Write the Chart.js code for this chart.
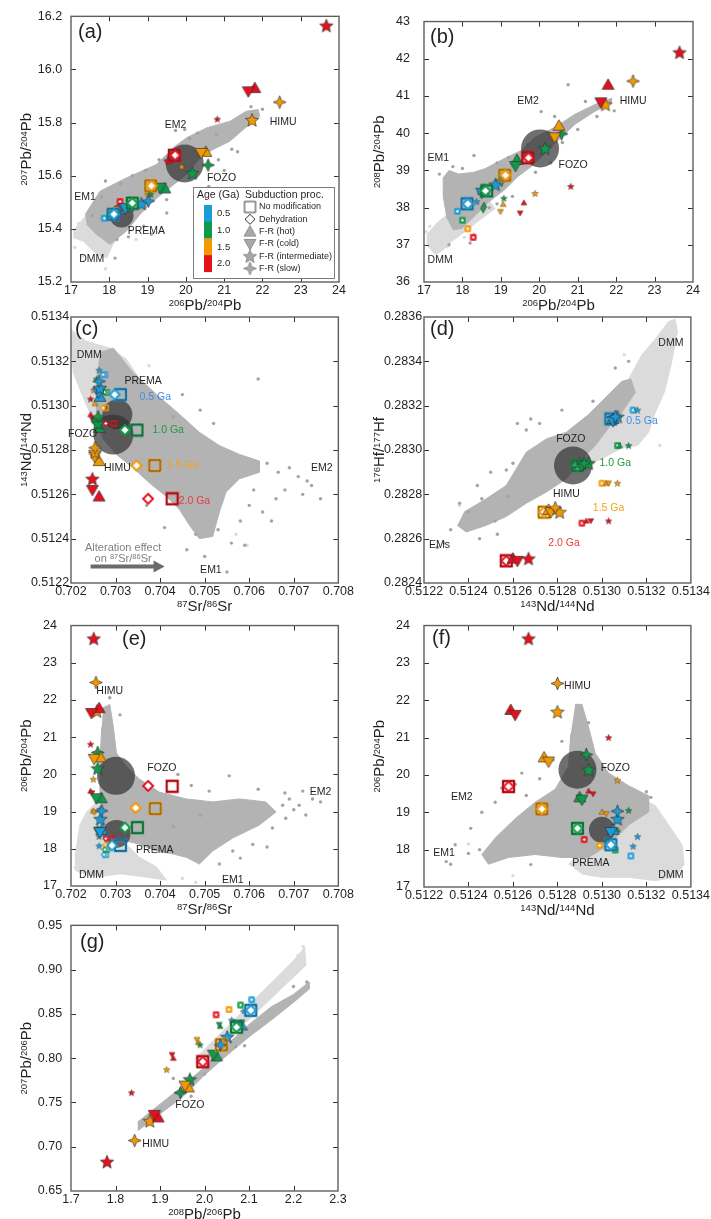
<!DOCTYPE html>
<html><head><meta charset="utf-8">
<script src="https://cdn.jsdelivr.net/npm/chart.js"></script>
<style>
html,body{margin:0;padding:0;background:#fff;overflow:hidden;width:711px;height:1219px;position:relative}
canvas{position:absolute}
</style>
</head><body>
<script>
// ---------------- categories ----------------
const AGES = ['0.5','1.0','1.5','2.0'];
const PROCS = ['No modification','Dehydration','F-R (hot)','F-R (cold)','F-R (intermediate)','F-R (slow)'];

// ---------------- tick values ----------------
const pb206Ticks = [17,18,19,20,21,22,23,24];
const aYTicks = [15.2,15.4,15.6,15.8,16.0,16.2];
const bYTicks = [36,37,38,39,40,41,42,43];
const srTicks = [0.702,0.703,0.704,0.705,0.706,0.707,0.708];
const ndTicks = [0.5122,0.5124,0.5126,0.5128,0.5130,0.5132,0.5134];
const hfTicks = [0.2824,0.2826,0.2828,0.2830,0.2832,0.2834,0.2836];
const gXTicks = [1.7,1.8,1.9,2.0,2.1,2.2,2.3];
const gYTicks = [0.65,0.70,0.75,0.80,0.85,0.90,0.95];

// ---------------- panel (a): 206Pb/204Pb vs 207Pb/204Pb ----------------
const aModel = [[18.10,15.455,0,0],[18.12,15.455,0,1],[18.50,15.485,0,2],[18.42,15.478,0,3],[18.84,15.495,0,4],[19.02,15.505,0,5],
 [18.60,15.497,1,0],[18.60,15.497,1,1],[19.45,15.552,1,2],[19.33,15.555,1,3],[20.17,15.61,1,4],[20.58,15.64,1,5],
 [19.08,15.562,2,0],[19.10,15.562,2,1],[20.52,15.69,2,2],[20.40,15.686,2,3],[21.73,15.81,2,4],[22.45,15.877,2,5],
 [19.70,15.677,3,0],[19.72,15.677,3,1],[21.80,15.93,3,2],[21.63,15.918,3,3],[23.67,16.165,3,4]];
const aSmall = [[17.87,15.44,0,0],[17.87,15.44,0,1],[18.02,15.455,1,0],[18.02,15.455,1,1],[18.15,15.47,2,0],[18.15,15.47,2,1],[18.28,15.503,3,0],[18.28,15.503,3,1],
 [18.55,15.49,1,2],[18.53,15.485,1,3],[19.05,15.53,2,2],[19.0,15.525,2,3],[19.58,15.655,3,2],[19.5,15.652,3,3],
 [18.37,15.465,0,4],[19.08,15.53,1,4],[19.89,15.634,2,4],[20.82,15.813,3,4]];
const aMorb = [[17.06,15.392],[17.41,15.454],[17.76,15.505],[18.19,15.53],[18.63,15.517],[18.8,15.467],[18.45,15.404],[18.1,15.342],[17.93,15.291],[17.67,15.304],[17.32,15.354],[17.06,15.367]];
const aOib = [[17.37,15.454],[17.76,15.542],[18.45,15.592],[19.23,15.642],[19.67,15.705],[20.02,15.743],[20.54,15.78],[21.15,15.805],[21.58,15.843],[21.89,15.849],[21.93,15.824],[21.5,15.774],[21.15,15.73],[20.71,15.699],[20.37,15.667],[20.02,15.605],[19.58,15.555],[19.15,15.505],[18.8,15.454],[18.45,15.392],[18.02,15.342],[17.67,15.379],[17.41,15.417]];
const aDots = [[19.73,15.77],[19.97,15.774],[20.1,15.74],[20.8,15.755],[19.1,15.38],[18.15,15.29],[18.2,15.36],[17.55,15.45],[17.8,15.52],[21.0,15.62],[21.35,15.69],[20.6,15.56],[19.5,15.46],[18.9,15.41],[22.0,15.85],[21.7,15.86],[18.6,15.6],[18.3,15.57],[20.3,15.76],[19.5,15.51],[20.85,15.66],[21.2,15.7],[19.3,15.66],[18.95,15.62],[17.9,15.58],[18.5,15.37]];
const aLight = [[17.1,15.33],[17.3,15.3],[17.5,15.4],[18.7,15.36],[17.9,15.25],[17.2,15.42],[18.9,15.48]];
const aCircles = [[19.97,15.646],[18.32,15.45]];
const aLabels = [['EM2',19.73,15.79],['HIMU',22.54,15.80],['FOZO',20.93,15.59],['EM1',17.37,15.52],['PREMA',18.97,15.39],['DMM',17.54,15.285]];

// ---------------- panel (b): 206Pb/204Pb vs 208Pb/204Pb ----------------
const bModel = [[18.12,38.10,0,0],[18.14,38.10,0,1],[18.55,38.48,0,2],[18.50,38.40,0,3],[18.86,38.62,0,4],[19.02,38.73,0,5],
 [18.63,38.45,1,0],[18.60,38.45,1,1],[19.42,39.28,1,2],[19.38,39.12,1,3],[20.15,39.59,1,4],[20.58,39.98,1,5],
 [19.10,38.87,2,0],[19.12,38.87,2,1],[20.51,40.20,2,2],[20.40,39.89,2,3],[21.72,40.77,2,4],[22.44,41.40,2,5],
 [19.70,39.34,3,0],[19.72,39.34,3,1],[21.79,41.30,3,2],[21.60,40.83,3,3],[23.65,42.17,3,4]];
const bSmall = [[17.87,37.90,0,0],[17.87,37.90,0,1],[18.00,37.66,1,0],[18.00,37.66,1,1],[18.14,37.43,2,0],[18.14,37.43,2,1],[18.28,37.20,3,0],[18.28,37.20,3,1],
 [18.56,38.07,1,2],[18.54,37.93,1,3],[19.06,38.09,2,2],[18.99,37.89,2,3],[19.60,38.13,3,2],[19.50,37.85,3,3],
 [18.37,38.16,0,4],[19.08,38.25,1,4],[19.89,38.38,2,4],[20.82,38.57,3,4]];
const bMorb = [[17.07,37.27],[17.37,37.62],[17.81,37.97],[18.24,38.14],[18.67,38.23],[18.85,37.97],[18.5,37.71],[18.07,37.36],[17.72,37.09],[17.46,36.83],[17.29,36.74],[17.07,37.0]];
const bOib = [[17.6,37.7],[17.5,38.3],[17.5,38.8],[17.65,39.0],[17.9,38.9],[18.3,38.95],[18.6,39.05],[19.02,39.28],[19.54,39.54],[19.89,39.89],[20.41,40.16],[20.93,40.51],[21.45,40.77],[21.88,40.94],[21.88,40.81],[21.45,40.59],[20.93,40.24],[20.49,39.81],[20.15,39.46],[19.8,39.11],[19.45,38.84],[19.11,38.49],[18.67,38.14],[18.33,37.79],[17.98,37.44],[17.75,37.4]];
const bDots = [[20.75,41.3],[20.05,40.58],[19.7,39.7],[19.3,39.1],[19.9,38.95],[20.3,39.2],[18.3,39.4],[18.0,39.05],[17.4,38.9],[18.9,38.1],[19.3,38.3],[21.0,40.1],[21.5,40.45],[21.95,40.6],[20.6,39.75],[18.7,38.0],[18.2,37.05],[17.65,37.0],[19.2,39.35],[18.9,39.2],[20.4,40.45],[21.2,40.85],[17.75,39.1]];
const bLight = [[17.05,37.35],[17.3,36.9],[17.6,36.95],[18.05,37.2],[17.15,37.5],[18.3,37.3]];
const bCircles = [[20.02,39.59]];
const bLabels = [['EM2',19.71,40.86],['HIMU',22.44,40.86],['EM1',17.37,39.34],['FOZO',20.88,39.13],['DMM',17.42,36.59]];

// ---------------- panel (c): 87Sr/86Sr vs 143Nd/144Nd ----------------
const cModel = [[0.70311,0.51305,0,0],[0.70298,0.51305,0,1],[0.70265,0.51304,0,2],[0.70262,0.51306,0,3],[0.70265,0.51308,0,4],[0.70263,0.51311,0,5],
 [0.70348,0.51289,1,0],[0.70321,0.51289,1,1],[0.70263,0.51290,1,2],[0.70258,0.51292,1,3],[0.70260,0.51292,1,4],[0.70261,0.51295,1,5],
 [0.70388,0.51273,2,0],[0.70347,0.51273,2,1],[0.70263,0.51275,2,2],[0.70253,0.51277,2,3],[0.70254,0.51279,2,4],[0.70254,0.51281,2,5],
 [0.70427,0.51258,3,0],[0.70373,0.51258,3,1],[0.70263,0.51259,3,2],[0.70248,0.51262,3,3],[0.70248,0.51267,3,4]];
const cSmall = [[0.70276,0.51314,0,0],[0.70272,0.51314,0,1],[0.70280,0.51306,1,0],[0.70275,0.51306,1,1],[0.70278,0.51299,2,0],[0.70272,0.51299,2,1],[0.70296,0.51292,3,0],[0.70278,0.51292,3,1],
 [0.70260,0.51308,1,2],[0.70254,0.51301,2,2],[0.70244,0.51296,3,2],[0.70248,0.51294,3,3],
 [0.70263,0.51316,0,4],[0.70257,0.51312,1,4],[0.70251,0.51307,2,4],[0.70244,0.51303,3,4]];
const cMorb = [[0.702015,0.51334],[0.70235,0.51329],[0.70287,0.51326],[0.70324,0.51321],[0.70354,0.51312],[0.70369,0.51303],[0.70362,0.51293],[0.70339,0.51285],[0.70302,0.51282],[0.70265,0.51288],[0.70235,0.513],[0.70205,0.51315],[0.702,0.5133]];
const cOib = [[0.70265,0.51324],[0.70295,0.51326],[0.70339,0.51315],[0.70392,0.51305],[0.70444,0.51296],[0.70488,0.51288],[0.70533,0.51282],[0.70578,0.51278],[0.70623,0.51275],[0.70623,0.51270],[0.70578,0.51267],[0.70548,0.51261],[0.70533,0.51252],[0.70518,0.51241],[0.70488,0.51240],[0.70466,0.51246],[0.70444,0.51253],[0.70414,0.51259],[0.70377,0.51265],[0.70339,0.51272],[0.70302,0.51278],[0.70272,0.51285],[0.70257,0.51296],[0.70257,0.51312]];
const cDots = [[0.7064,0.51274],[0.70665,0.5127],[0.7069,0.51272],[0.7071,0.51268],[0.7073,0.51266],[0.7072,0.5126],[0.7074,0.51264],[0.7076,0.51258],[0.7068,0.51262],[0.7066,0.51258],[0.7063,0.51252],[0.706,0.51255],[0.7058,0.51248],[0.7056,0.51238],[0.7061,0.51262],[0.705,0.51232],[0.7055,0.51225],[0.7062,0.51312],[0.7059,0.51237],[0.7065,0.51248],[0.7048,0.51242],[0.7053,0.51244],[0.7045,0.51305],[0.7043,0.51295],[0.7046,0.51235],[0.7041,0.51245],[0.7037,0.51255],[0.7052,0.51292],[0.7049,0.51298]];
const cLight = [[0.7057,0.51242],[0.70595,0.51237],[0.70375,0.51318],[0.7038,0.51296]];
const cCircles = [[0.70304,0.51296],[0.70295,0.51287]];
const cLabels = [['DMM',0.70241,0.51323],['PREMA',0.70362,0.51311],['0.5 Ga',0.70389,0.51304,0],['1.0 Ga',0.70418,0.51289,1],['1.5 Ga',0.7045,0.51273,2],['2.0 Ga',0.70477,0.51257,3],
 ['FOZO',0.70226,0.51287],['HIMU',0.70304,0.51272],['EM2',0.70763,0.51272],['EM1',0.70514,0.51226],['Alteration effect',0.70317,0.512358,4],['on \u2078\u2077Sr/\u2078\u2076Sr',0.70317,0.512313,4]];
const cArrow = [[0.70244,0.512275],[0.7041,0.512275]];

// ---------------- panel (d): 143Nd/144Nd vs 176Hf/177Hf ----------------
const dModel = [[0.51304,0.28314,0,0],[0.51304,0.28314,0,1],[0.51305,0.28314,0,2],[0.51305,0.28313,0,3],[0.51307,0.28315,0,4],[0.51306,0.28315,0,5],
 [0.51289,0.28293,1,0],[0.51289,0.28293,1,1],[0.51290,0.28294,1,2],[0.51291,0.28293,1,3],[0.51294,0.28294,1,4],[0.51292,0.28294,1,5],
 [0.51274,0.28272,2,0],[0.51274,0.28272,2,1],[0.51276,0.28273,2,2],[0.51277,0.28272,2,3],[0.51281,0.28272,2,4],[0.51279,0.28274,2,5],
 [0.51257,0.28250,3,0],[0.51257,0.28250,3,1],[0.51260,0.28251,3,2],[0.51262,0.28250,3,3],[0.51267,0.28251,3,4]];
const dSmall = [[0.51314,0.28318,0,0],[0.51314,0.28318,0,1],[0.51316,0.28318,0,4],
 [0.51307,0.28302,1,0],[0.51307,0.28302,1,1],[0.51308,0.28302,1,2],[0.51312,0.28302,1,4],
 [0.51300,0.28285,2,0],[0.51300,0.28285,2,1],[0.51302,0.28285,2,2],[0.51303,0.28285,2,3],[0.51307,0.28285,2,4],
 [0.51291,0.28267,3,0],[0.51291,0.28267,3,1],[0.51293,0.28268,3,2],[0.51295,0.28268,3,3],[0.51303,0.28268,3,4]];
const dMorb = [[0.51285,0.28298],[0.51297,0.28312],[0.51306,0.28322],[0.51312,0.28332],[0.51318,0.28343],[0.51324,0.2835],[0.5133,0.28358],[0.51333,0.28359],[0.51334,0.28353],[0.51331,0.28338],[0.51328,0.28326],[0.51324,0.28317],[0.51321,0.28308],[0.51316,0.28302],[0.51309,0.28301],[0.513,0.28296],[0.5129,0.28292]];
const dOib = [[0.51238,0.28272],[0.51248,0.28278],[0.51257,0.28284],[0.51266,0.28299],[0.51275,0.28305],[0.51284,0.28308],[0.51294,0.28316],[0.51301,0.28323],[0.51309,0.28331],[0.51313,0.28332],[0.51315,0.28326],[0.51309,0.28317],[0.51303,0.2831],[0.51297,0.28302],[0.5129,0.28295],[0.51284,0.28287],[0.51275,0.28281],[0.51266,0.28276],[0.51257,0.2827],[0.51248,0.28266],[0.51239,0.28263],[0.51235,0.28266]];
const dDots = [[0.51226,0.28256],[0.51229,0.28258],[0.51232,0.28264],[0.5124,0.28272],[0.51245,0.2826],[0.51262,0.28312],[0.51266,0.28309],[0.51257,0.28291],[0.5125,0.2829],[0.51244,0.28284],[0.51252,0.28268],[0.51272,0.28312],[0.51282,0.28318],[0.51296,0.28322],[0.51306,0.28337],[0.51312,0.2834],[0.51236,0.28276],[0.51258,0.28279],[0.51253,0.28262],[0.51268,0.28314],[0.5126,0.28294],[0.51246,0.28278]];
const dLight = [[0.51236,0.28275],[0.5131,0.28343],[0.51323,0.28347],[0.51318,0.28312],[0.51326,0.28302]];
const dCircles = [[0.51287,0.28293]];
const dLabels = [['DMM',0.51331,0.28348],['0.5 Ga',0.51318,0.28313,0],['FOZO',0.51286,0.28305],['1.0 Ga',0.51306,0.28294,1],['HIMU',0.51284,0.2828],['1.5 Ga',0.51303,0.28274,2],['2.0 Ga',0.51283,0.28258,3],['EMs',0.51227,0.28257]];

// ---------------- panel (e): 87Sr/86Sr vs 206Pb/204Pb ----------------
const eModel = [[0.70311,18.09,0,0],[0.70292,18.09,0,1],[0.70269,18.51,0,2],[0.70265,18.45,0,3],[0.70266,18.80,0,4],[0.70269,19.02,0,5],
 [0.70349,18.57,1,0],[0.70321,18.57,1,1],[0.70268,19.36,1,2],[0.70257,19.36,1,3],[0.70260,20.16,1,4],[0.70260,20.59,1,5],
 [0.70389,19.08,2,0],[0.70345,19.10,2,1],[0.70266,20.46,2,2],[0.70252,20.42,2,3],[0.70258,21.70,2,4],[0.70256,22.47,2,5],
 [0.70427,19.68,3,0],[0.70373,19.69,3,1],[0.70263,21.78,3,2],[0.70246,21.65,3,3],[0.70251,23.65,3,4]];
const eSmall = [[0.70278,17.84,0,0],[0.70274,17.84,0,1],[0.70280,17.98,1,0],[0.70276,17.98,1,1],[0.70285,18.11,2,0],[0.70278,18.11,2,1],[0.70292,18.27,3,0],[0.70278,18.27,3,1],
 [0.70260,18.55,1,2],[0.70257,18.52,1,3],[0.70250,19.02,2,2],[0.70252,18.98,2,3],[0.70244,19.55,3,2],[0.70247,19.50,3,3],
 [0.70263,18.33,0,4],[0.70263,18.08,0,4],[0.70265,19.06,1,4],[0.70250,19.87,2,4],[0.70244,20.81,3,4]];
const eMorb = [[0.70209,17.77],[0.7022,18.64],[0.70235,18.99],[0.70265,19.34],[0.70287,19.34],[0.70302,18.99],[0.7031,18.56],[0.70324,18.12],[0.70354,17.77],[0.70392,17.51],[0.70414,17.16],[0.70362,17.25],[0.7031,17.33],[0.70265,17.25],[0.70228,17.33],[0.70209,17.42]];
const eOib = [[0.70272,21.79],[0.70287,21.88],[0.70295,21.27],[0.70302,20.57],[0.70324,20.22],[0.70354,19.87],[0.70399,19.52],[0.70459,19.34],[0.70518,19.26],[0.70578,19.34],[0.70637,19.26],[0.7066,18.99],[0.70623,18.64],[0.70563,18.29],[0.70518,17.94],[0.70488,17.59],[0.70459,17.77],[0.70429,17.86],[0.70392,17.94],[0.70354,18.12],[0.70324,18.21],[0.70295,18.29],[0.70272,18.64],[0.70265,19.34],[0.70265,20.39],[0.70269,21.27]];
const eDots = [[0.70675,19.17],[0.7069,19.34],[0.70712,19.17],[0.70727,18.91],[0.70742,19.34],[0.7076,19.26],[0.707,19.05],[0.70682,18.82],[0.70652,18.56],[0.70608,18.12],[0.70563,17.94],[0.70533,17.59],[0.70555,19.96],[0.7047,19.7],[0.7044,20.0],[0.70287,22.06],[0.7031,21.6],[0.7064,18.05],[0.7058,17.75],[0.7072,19.55],[0.7068,19.5],[0.7062,19.6],[0.7051,19.55],[0.7049,18.9],[0.7043,18.6]];
const eLight = [[0.7045,17.2],[0.7048,17.1],[0.7021,17.5],[0.7037,17.4]];
const eCircles = [[0.70301,19.96],[0.70302,18.40]];
const eLabels = [['HIMU',0.70287,22.25],['FOZO',0.70404,20.18],['EM2',0.7076,19.52],['PREMA',0.70388,17.96],['DMM',0.70246,17.29],['EM1',0.70563,17.17]];

// ---------------- panel (f): 143Nd/144Nd vs 206Pb/204Pb ----------------
const fModel = [[0.51304,18.13,0,0],[0.51304,18.13,0,1],[0.51305,18.53,0,2],[0.51304,18.47,0,3],[0.51307,18.82,0,4],[0.51307,19.03,0,5],
 [0.51289,18.57,1,0],[0.51289,18.57,1,1],[0.51290,19.40,1,2],[0.51291,19.34,1,3],[0.51294,20.14,1,4],[0.51293,20.55,1,5],
 [0.51273,19.09,2,0],[0.51273,19.09,2,1],[0.51274,20.47,2,2],[0.51276,20.36,2,3],[0.51280,21.69,2,4],[0.51280,22.45,2,5],
 [0.51258,19.69,3,0],[0.51258,19.69,3,1],[0.51259,21.74,3,2],[0.51261,21.61,3,3],[0.51267,23.65,3,4]];
const fSmall = [[0.51313,17.83,0,0],[0.51313,17.83,0,1],[0.51306,17.99,1,0],[0.51306,17.99,1,1],[0.51299,18.11,2,0],[0.51299,18.11,2,1],[0.51292,18.27,3,0],[0.51292,18.27,3,1],
 [0.51307,18.53,1,2],[0.51300,19.01,2,2],[0.51302,18.96,2,3],[0.51294,19.57,3,2],[0.51296,19.49,3,3],
 [0.51316,18.35,0,4],[0.51314,18.09,0,4],[0.51312,19.05,1,4],[0.51307,19.86,2,4],[0.51303,21.00,3,4]];
const fMorb = [[0.51285,17.61],[0.51294,18.13],[0.51303,18.83],[0.51309,19.01],[0.51318,19.36],[0.51324,19.18],[0.5133,18.66],[0.51336,18.13],[0.51337,17.61],[0.51333,17.26],[0.51324,17.17],[0.51312,17.26],[0.513,17.26],[0.51291,17.35]];
const fOib = [[0.51288,21.89],[0.51291,21.89],[0.51294,21.28],[0.51297,20.58],[0.51303,20.05],[0.51312,19.71],[0.51321,19.44],[0.51321,19.01],[0.51312,18.66],[0.51303,18.13],[0.51294,17.79],[0.51282,17.79],[0.5127,17.87],[0.51258,17.79],[0.51249,17.61],[0.51246,17.87],[0.51252,18.31],[0.51261,18.83],[0.5127,19.27],[0.51279,19.62],[0.51285,20.23],[0.51286,21.1]];
const fDots = [[0.51252,19.27],[0.51246,19.0],[0.51241,18.57],[0.51234,18.13],[0.51232,17.61],[0.5123,17.68],[0.51264,20.05],[0.51272,19.9],[0.51261,19.75],[0.51255,19.65],[0.5132,19.55],[0.51322,19.4],[0.51294,21.4],[0.5124,17.9],[0.51245,18.0],[0.51268,17.6],[0.51282,20.9],[0.51278,20.4],[0.51266,19.45]];
const fLight = [[0.51328,17.3],[0.5126,17.3],[0.5124,18.15],[0.5132,19.45]];
const fCircles = [[0.51289,20.14],[0.51300,18.53]];
const fLabels = [['HIMU',0.51289,22.37],['FOZO',0.51306,20.18],['EM2',0.51237,19.42],['EM1',0.51229,17.92],['PREMA',0.51295,17.64],['DMM',0.51331,17.32]];

// ---------------- panel (g): 208Pb/206Pb vs 207Pb/206Pb ----------------
const gModel = [[2.104,0.854,0,0],[2.104,0.854,0,1],[2.083,0.837,0,2],[2.077,0.838,0,3],[2.051,0.824,0,4],
 [2.072,0.835,1,0],[2.072,0.835,1,1],[2.027,0.802,1,2],[2.020,0.804,1,3],[1.967,0.776,1,4],[1.946,0.761,1,5],
 [2.038,0.815,2,0],[2.038,0.815,2,1],[1.964,0.767,2,2],[1.956,0.769,2,3],[1.877,0.729,2,4],[1.843,0.707,2,5],
 [1.996,0.796,3,0],[1.996,0.796,3,1],[1.896,0.733,3,2],[1.887,0.736,3,3],[1.781,0.683,3,4],[2.036,0.815,0,5]];
const gSmall = [[2.106,0.866,0,0],[2.106,0.866,0,1],[2.081,0.860,1,0],[2.081,0.860,1,1],[2.055,0.855,2,0],[2.055,0.855,2,1],[2.026,0.849,3,0],[2.026,0.849,3,1],
 [2.035,0.836,1,2],[2.033,0.838,1,3],[1.986,0.818,2,2],[1.983,0.821,2,3],[1.930,0.800,3,2],[1.927,0.804,3,3],
 [2.061,0.843,0,4],[2.087,0.853,0,5],[1.990,0.815,1,4],[1.915,0.787,2,4],[1.836,0.761,3,4]];
const gMorb = [[1.98,0.80],[2.05,0.835],[2.1,0.86],[2.15,0.885],[2.2,0.91],[2.225,0.925],[2.228,0.905],[2.18,0.882],[2.12,0.853],[2.06,0.825],[2.0,0.792]];
const gOib = [[1.85,0.728],[1.95,0.768],[2.0,0.79],[2.05,0.815],[2.1,0.838],[2.15,0.858],[2.2,0.872],[2.235,0.886],[2.235,0.878],[2.2,0.863],[2.15,0.843],[2.1,0.824],[2.05,0.803],[2.0,0.781],[1.95,0.756],[1.85,0.718]];
const gDots = [[1.97,0.757],[2.09,0.814],[2.07,0.813],[2.0,0.782],[2.2,0.881],[2.23,0.886],[1.93,0.777],[1.9,0.74]];
const gLight = [[2.222,0.926],[2.21,0.916]];
const gCircles = [];
const gLabels = [['FOZO',1.967,0.747],['HIMU',1.89,0.703]];

// ---------------- styles ----------------
const FONT = "'Liberation Sans', Arial, Helvetica, sans-serif";
const TXT = '#231f20';
const AGE_COL = ['#1b9bd8','#0f9a4a','#f39800','#e60f1c'];
const LABEL_COL = ['#3f8fe6','#1f9b3e','#f5a020','#ee3a3a','#808080'];
const LIGHT = '#dbdbdb', MID = '#b3b3b3', DOT = '#a3a3a3', CIRC = 'rgba(50,50,50,0.7)';

const SIZE_BIG = [11,10,12,12,14,13];
const SIZE_SMALL = [5,5,6,6,7,6];
function shapePath(g, p, m, h) {
  g.beginPath();
  if (p === 0) { g.rect(m-h, m-h, 2*h, 2*h); }
  else if (p === 1) { g.moveTo(m, m-h); g.lineTo(m+h, m); g.lineTo(m, m+h); g.lineTo(m-h, m); }
  else if (p === 2) { g.moveTo(m, m-h); g.lineTo(m+h, m+h*0.75); g.lineTo(m-h, m+h*0.75); }
  else if (p === 3) { g.moveTo(m, m+h); g.lineTo(m+h, m-h*0.75); g.lineTo(m-h, m-h*0.75); }
  else {
    const n = p === 4 ? 5 : 4, r = p === 4 ? h*0.45 : h*0.4, dy = p === 4 ? h*0.08 : 0;
    for (let i = 0; i < 2*n; i++) { const ang = i*Math.PI/n, rad = i % 2 ? r : h; g.lineTo(m+rad*Math.sin(ang), m-rad*Math.cos(ang)+dy); }
  }
  g.closePath();
}
const iconCache = {};
function icon(p, a, big, legend) {
  const key = p+'_'+a+'_'+big+'_'+legend;
  if (iconCache[key]) return iconCache[key];
  const s = big ? SIZE_BIG[p] : SIZE_SMALL[p];
  const c = document.createElement('canvas');
  const w = Math.ceil(s) + 4; c.width = w; c.height = w;
  const g = c.getContext('2d'); const m = w/2, h = s/2;
  g.lineJoin = 'miter';
  const color = legend ? '#a8a8a8' : AGE_COL[a];
  shapePath(g, p, m, h);
  if (p === 0) {
    if (legend) { g.strokeStyle = '#333'; g.lineWidth = 1; g.stroke(); }
    else { g.strokeStyle = color; g.lineWidth = big ? 2.3 : 1.3; g.stroke(); if (big) { g.strokeStyle = '#1a1a1a'; g.lineWidth = 0.6; g.stroke(); } }
  } else if (p === 1) {
    g.fillStyle = '#fff'; g.fill();
    g.strokeStyle = legend ? '#333' : color; g.lineWidth = legend ? 1 : (big ? 1.9 : 1.2); g.stroke();
  } else {
    g.fillStyle = color; g.fill();
    g.strokeStyle = legend ? '#777' : '#333'; g.lineWidth = big ? 0.7 : 0.4; g.stroke();
  }
  iconCache[key] = c;
  return c;
}

// axis title with superscript digits (drawn as text runs)
const SUP = {'\u2070':'0','\u00b9':'1','\u00b2':'2','\u00b3':'3','\u2074':'4','\u2075':'5','\u2076':'6','\u2077':'7','\u2078':'8','\u2079':'9'};
function drawRich(ctx, text, cx, cy, rot, size, supSize) {
  const runs = [];
  for (const ch of text) {
    const s = SUP[ch] !== undefined, c = s ? SUP[ch] : ch;
    if (runs.length && runs[runs.length-1].sup === s) runs[runs.length-1].t += c; else runs.push({t: c, sup: s});
  }
  const bigF = size + 'px ' + FONT, supF = supSize + 'px ' + FONT;
  let w = 0;
  runs.forEach(r => { ctx.font = r.sup ? supF : bigF; r.w = ctx.measureText(r.t).width; w += r.w; });
  ctx.save(); ctx.translate(cx, cy); ctx.rotate(rot);
  ctx.textAlign = 'left'; ctx.textBaseline = 'alphabetic';
  const base = size * 0.36;
  let x = -w/2;
  runs.forEach(r => { ctx.font = r.sup ? supF : bigF; ctx.fillText(r.t, x, r.sup ? base - size*0.3 : base); x += r.w; });
  ctx.restore();
}

// ---------------- decoration plugin (frame, inward ticks, labels, legend, titles) ----------------
const deco = {
  id: 'deco',
  afterDatasetsDraw(chart, args, o) {
    const ctx = chart.ctx, a = chart.chartArea, X = chart.scales.x, Y = chart.scales.y;
    ctx.save();
    ctx.strokeStyle = '#333'; ctx.lineWidth = 1;
    ctx.beginPath();
    X.ticks.forEach(t => { const px = Math.round(X.getPixelForValue(t.value)) + 0.5; if (px < a.left + 2 || px > a.right - 2) return;
      ctx.moveTo(px, a.bottom); ctx.lineTo(px, a.bottom - 5); ctx.moveTo(px, a.top); ctx.lineTo(px, a.top + 5); });
    Y.ticks.forEach(t => { const py = Math.round(Y.getPixelForValue(t.value)) + 0.5; if (py < a.top + 2 || py > a.bottom - 2) return;
      ctx.moveTo(a.left, py); ctx.lineTo(a.left + 5, py); ctx.moveTo(a.right, py); ctx.lineTo(a.right - 5, py); });
    ctx.stroke();
    ctx.strokeStyle = '#5e5e5e'; ctx.lineWidth = 1.4;
    ctx.strokeRect(a.left, a.top, a.right - a.left, a.bottom - a.top);
    if (o.arrow) {
      const x0 = X.getPixelForValue(o.arrow[0][0]), y0 = Y.getPixelForValue(o.arrow[0][1]);
      const x1 = X.getPixelForValue(o.arrow[1][0]), y1 = Y.getPixelForValue(o.arrow[1][1]);
      ctx.strokeStyle = '#6b6b6b'; ctx.fillStyle = '#6b6b6b'; ctx.lineWidth = 4;
      ctx.beginPath(); ctx.moveTo(x0, y0); ctx.lineTo(x1 - 9, y1); ctx.stroke();
      ctx.beginPath(); ctx.moveTo(x1, y1); ctx.lineTo(x1 - 11, y1 - 6); ctx.lineTo(x1 - 11, y1 + 6); ctx.closePath(); ctx.fill();
    }
    ctx.textAlign = 'center'; ctx.textBaseline = 'middle';
    (o.labels || []).forEach(l => {
      ctx.fillStyle = l[3] === undefined ? TXT : LABEL_COL[l[3]];
      const px = X.getPixelForValue(l[1]), py = Y.getPixelForValue(l[2]);
      const sz = l[3] === 4 ? 11 : 10.5;
      if (/[\u2070-\u2079\u00b2\u00b3\u00b9]/.test(l[0])) drawRich(ctx, l[0], px, py, 0, sz, 7.5);
      else { ctx.font = sz + 'px ' + FONT; ctx.fillText(l[0], px, py); }
    });
    ctx.fillStyle = TXT;
    ctx.font = '20px ' + FONT; ctx.textAlign = 'left'; ctx.textBaseline = 'middle';
    ctx.fillText(o.tag, a.left + o.tagOff[0], a.top + o.tagOff[1]);
    drawRich(ctx, o.xTitle, (a.left + a.right)/2, a.bottom + 23, 0, 15, 9.5);
    drawRich(ctx, o.yTitle, a.left - 45, (a.top + a.bottom)/2, -Math.PI/2, 15, 9.5);
    if (o.legend) {
      const bx = a.right - 146, by = a.bottom - 95, bw = 141, bh = 91;
      ctx.fillStyle = '#fff'; ctx.fillRect(bx, by, bw, bh);
      ctx.strokeStyle = '#7a7a7a'; ctx.lineWidth = 1; ctx.strokeRect(bx + 0.5, by + 0.5, bw, bh);
      ctx.fillStyle = TXT; ctx.textAlign = 'left'; ctx.textBaseline = 'middle';
      ctx.font = '10.5px ' + FONT;
      ctx.fillText('Age (Ga)', bx + 4, by + 8);
      ctx.fillText('Subduction proc.', bx + 52, by + 8);
      ctx.font = '9.5px ' + FONT;
      AGES.forEach((g, i) => {
        ctx.fillStyle = AGE_COL[i]; ctx.fillRect(bx + 11, by + 18 + i*16.7, 8, 17);
        ctx.fillStyle = TXT; ctx.fillText(g, bx + 24, by + 26.5 + i*16.7);
      });
      ctx.font = '9px ' + FONT;
      PROCS.forEach((p, i) => {
        const ic = icon(i, 0, true, true), cy = by + 20 + i*12.3;
        ctx.drawImage(ic, bx + 57 - ic.width/2, cy - ic.height/2);
        ctx.fillStyle = TXT; ctx.fillText(p, bx + 66, cy);
      });
    }
    ctx.restore();
  }
};

// ---------------- panel builder ----------------
const mctx = document.createElement('canvas').getContext('2d');
function toXY(arr) { return arr.map(r => ({x: r[0], y: r[1]})); }
function toModel(arr) { return arr.map(r => ({x: r[0], y: r[1], a: r[2], p: r[3]})); }

function makePanel(P) {
  const cl = P.col ? 355 : 0, cw = P.col ? 356 : 355;
  const [pl, pt, pr, pb] = P.plot;
  const ctop = pt - 15, ch = (pb - pt) + 15 + 35;
  const cv = document.createElement('canvas');
  cv.width = cw; cv.height = ch;
  cv.style.left = cl + 'px'; cv.style.top = ctop + 'px'; cv.style.width = cw + 'px'; cv.style.height = ch + 'px';
  document.body.appendChild(cv);
  const yW = pl - cl;
  mctx.font = '12.5px ' + FONT;
  const widest = Math.max(...P.yt.map(v => mctx.measureText(v.toFixed(P.yd)).width));
  const tickFont = {family: FONT, size: 12.5};
  const ds = [];
  ds.push({type: 'line', data: toXY(P.morb), fill: 'shape', backgroundColor: LIGHT, borderColor: LIGHT, borderWidth: 1, pointRadius: 0, tension: 0, order: 12});
  ds.push({type: 'scatter', data: toXY(P.light), backgroundColor: LIGHT, borderWidth: 0, pointRadius: 1.7, order: 11});
  ds.push({type: 'line', data: toXY(P.oib), fill: 'shape', backgroundColor: MID, borderColor: MID, borderWidth: 1, pointRadius: 0, tension: 0, order: 10});
  ds.push({type: 'scatter', data: toXY(P.dots), backgroundColor: DOT, borderWidth: 0, pointRadius: 1.7, order: 9});
  ds.push({type: 'scatter', data: toXY(P.circles), backgroundColor: CIRC, borderWidth: 0, pointRadius: P.circleR, order: 5});
  ds.push({type: 'scatter', data: toModel(P.small), pointStyle: c => c.raw ? icon(c.raw.p, c.raw.a, false) : 'circle', pointRadius: 3, order: 3});
  ds.push({type: 'scatter', data: toModel(P.big), pointStyle: c => c.raw ? icon(c.raw.p, c.raw.a, true) : 'circle', pointRadius: 6, order: 2});
  new Chart(cv, {
    type: 'scatter',
    data: {datasets: ds},
    options: {
      responsive: false, animation: false, events: [], devicePixelRatio: 1,
      layout: {autoPadding: false, padding: {top: 15, right: cl + cw - pr, left: 0, bottom: 0}},
      plugins: {legend: {display: false}, tooltip: {enabled: false},
        deco: {labels: P.labels, tag: P.tag, tagOff: P.tagOff, legend: !!P.legend, arrow: P.arrow || null, xTitle: P.xTitle, yTitle: P.yTitle}},
      scales: {
        x: {type: 'linear', position: 'bottom', min: P.xt[0], max: P.xt[P.xt.length - 1],
          afterBuildTicks: s => { s.ticks = P.xt.map(v => ({value: v})); },
          afterFit: s => { s.height = 35; },
          grid: {display: false, drawTicks: false}, border: {display: false},
          ticks: {font: tickFont, color: TXT, padding: 1, maxRotation: 0, minRotation: 0, autoSkip: false, callback: v => Number(v).toFixed(P.xd)},
          title: {display: false, text: P.xTitle}},
        y: {type: 'linear', position: 'left', min: P.yt[0], max: P.yt[P.yt.length - 1],
          afterBuildTicks: s => { s.ticks = P.yt.map(v => ({value: v})); },
          afterFit: s => { s.width = yW; },
          grid: {display: false, drawTicks: false}, border: {display: false},
          ticks: {font: tickFont, color: TXT, padding: 21 - widest/2, crossAlign: 'center', autoSkip: false, callback: v => Number(v).toFixed(P.yd)},
          title: {display: false, text: P.yTitle}}
      }
    },
    plugins: [deco]
  });
}

const PB64 = '\u00b2\u2070\u2076Pb/\u00b2\u2070\u2074Pb';
const SR = '\u2078\u2077Sr/\u2078\u2076Sr';
const ND = '\u00b9\u2074\u00b3Nd/\u00b9\u2074\u2074Nd';
makePanel({col: 0, plot: [71,15,339,282], xt: pb206Ticks, yt: aYTicks, xd: 0, yd: 1, xTitle: PB64, yTitle: '\u00b2\u2070\u2077Pb/\u00b2\u2070\u2074Pb', tag: '(a)', tagOff: [7,16],
  morb: aMorb, light: aLight, oib: aOib, dots: aDots, circles: aCircles, circleR: [19,12], small: aSmall, big: aModel, labels: aLabels, legend: true});
makePanel({col: 1, plot: [424,15,693,282], xt: pb206Ticks, yt: bYTicks, xd: 0, yd: 0, xTitle: PB64, yTitle: '\u00b2\u2070\u2078Pb/\u00b2\u2070\u2074Pb', tag: '(b)', tagOff: [6,16],
  morb: bMorb, light: bLight, oib: bOib, dots: bDots, circles: bCircles, circleR: [19], small: bSmall, big: bModel, labels: bLabels});
makePanel({col: 0, plot: [71,317,339,583], xt: srTicks, yt: ndTicks, xd: 3, yd: 4, xTitle: SR, yTitle: ND, tag: '(c)', tagOff: [4,12],
  morb: cMorb, light: cLight, oib: cOib, dots: cDots, circles: cCircles, circleR: [15,20], small: cSmall, big: cModel, labels: cLabels, arrow: cArrow});
makePanel({col: 1, plot: [424,317,691,583], xt: ndTicks, yt: hfTicks, xd: 4, yd: 4, xTitle: ND, yTitle: '\u00b9\u2077\u2076Hf/\u00b9\u2077\u2077Hf', tag: '(d)', tagOff: [6,12],
  morb: dMorb, light: dLight, oib: dOib, dots: dDots, circles: dCircles, circleR: [19], small: dSmall, big: dModel, labels: dLabels});
makePanel({col: 0, plot: [71,619,339,886], xt: srTicks, yt: pb206Ticks, xd: 3, yd: 0, xTitle: SR, yTitle: PB64, tag: '(e)', tagOff: [51,14],
  morb: eMorb, light: eLight, oib: eOib, dots: eDots, circles: eCircles, circleR: [19,14], small: eSmall, big: eModel, labels: eLabels});
makePanel({col: 1, plot: [424,619,691,887], xt: ndTicks, yt: pb206Ticks, xd: 4, yd: 0, xTitle: ND, yTitle: PB64, tag: '(f)', tagOff: [8,13],
  morb: fMorb, light: fLight, oib: fOib, dots: fDots, circles: fCircles, circleR: [19,13], small: fSmall, big: fModel, labels: fLabels});
makePanel({col: 0, plot: [71,924,338,1191], xt: gXTicks, yt: gYTicks, xd: 1, yd: 2, xTitle: '\u00b2\u2070\u2078Pb/\u00b2\u2070\u2076Pb', yTitle: '\u00b2\u2070\u2077Pb/\u00b2\u2070\u2076Pb', tag: '(g)', tagOff: [9,17],
  morb: gMorb, light: gLight, oib: gOib, dots: gDots, circles: gCircles, circleR: [], small: gSmall, big: gModel, labels: gLabels});
</script>
</body></html>
